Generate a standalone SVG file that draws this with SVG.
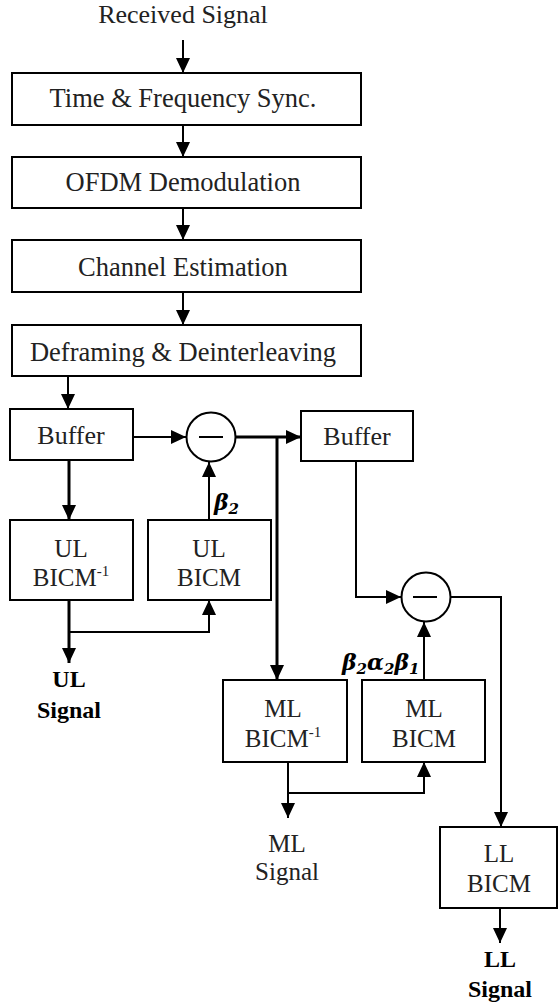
<svg xmlns="http://www.w3.org/2000/svg" width="560" height="1006" viewBox="0 0 560 1006">
<style>
.box{fill:#fff;stroke:#000;stroke-width:2}
.t{font-family:'Liberation Serif',Tinos,'Times New Roman','DejaVu Serif',serif;font-size:25px;fill:#222;text-anchor:middle}
.h{font-size:26.5px}
.b{font-family:'Liberation Serif',Tinos,'Times New Roman','DejaVu Serif',serif;font-size:24px;font-weight:bold;fill:#000;text-anchor:middle}
.g{font-family:'DejaVu Serif','Liberation Serif',serif;font-size:22px;font-weight:bold;font-style:italic;fill:#000}
.c{fill:none;stroke:#000;stroke-width:2}
.k{fill:none;stroke:#000;stroke-width:3}
</style>
<defs>
<marker id="ah" viewBox="0 0 15 14" refX="15" refY="7" markerWidth="15" markerHeight="14" markerUnits="userSpaceOnUse" orient="auto">
<path d="M0,0 L15,7 L0,14 z" fill="#000"/>
</marker>
</defs>
<g id="received"><text class="t" x="183" y="23" style="font-size:26px">Received Signal</text></g>
<g id="sync"><rect class="box" x="12" y="73" width="349" height="52"/><text class="t h" x="183" y="107">Time &amp; Frequency Sync.</text></g>
<g id="ofdm"><rect class="box" x="12" y="157" width="349" height="51"/><text class="t h" x="183" y="191">OFDM Demodulation</text></g>
<g id="chest"><rect class="box" x="12" y="240" width="349" height="52"/><text class="t h" x="183" y="276">Channel Estimation</text></g>
<g id="deframe"><rect class="box" x="12" y="325" width="349" height="51"/><text class="t h" x="183" y="361">Deframing &amp; Deinterleaving</text></g>
<g id="buffer1"><rect class="box" x="10" y="409" width="123" height="51"/><text class="t" x="71" y="444" style="font-size:26px">Buffer</text></g>
<g id="sub1"><circle cx="211" cy="437" r="24.5" fill="#fff" stroke="#000" stroke-width="2"/><line x1="199" y1="437" x2="223" y2="437" stroke="#000" stroke-width="2"/></g>
<g id="buffer2"><rect class="box" x="301" y="411" width="112" height="50"/><text class="t" x="357" y="445" style="font-size:26px">Buffer</text></g>
<g id="ulinv"><rect class="box" x="10" y="520" width="123" height="80"/><text class="t" x="71" y="557">UL</text><text class="t" x="71" y="586">BICM<tspan font-size="15" dy="-10">-1</tspan></text></g>
<g id="ulbicm"><rect class="box" x="148" y="520" width="123" height="80"/><text class="t" x="209" y="557">UL</text><text class="t" x="209" y="586">BICM</text></g>
<g id="ulsig"><text class="b" x="69" y="687">UL</text><text class="b" x="69" y="718">Signal</text></g>
<g id="sub2"><circle cx="426" cy="597" r="24.5" fill="#fff" stroke="#000" stroke-width="2"/><line x1="413" y1="597" x2="437" y2="597" stroke="#000" stroke-width="2"/></g>
<g id="mlinv"><rect class="box" x="223" y="680" width="124" height="82"/><text class="t" x="283" y="717">ML</text><text class="t" x="283" y="747">BICM<tspan font-size="15" dy="-10">-1</tspan></text></g>
<g id="mlbicm"><rect class="box" x="362" y="680" width="123" height="82"/><text class="t" x="424" y="717">ML</text><text class="t" x="424" y="747">BICM</text></g>
<g id="mlsig"><text class="t" x="287" y="852">ML</text><text class="t" x="287" y="880">Signal</text></g>
<g id="llbicm"><rect class="box" x="440" y="827" width="117" height="81"/><text class="t" x="499" y="862">LL</text><text class="t" x="499" y="892">BICM</text></g>
<g id="llsig"><text class="b" x="500" y="967">LL</text><text class="b" x="500" y="997">Signal</text></g>
<g id="labels">
<text class="g" x="214" y="510">β<tspan font-size="15" dy="4">2</tspan></text>
<text class="g" x="342" y="670">β<tspan font-size="15" dy="4">2</tspan><tspan dy="-4">α</tspan><tspan font-size="15" dy="4">2</tspan><tspan dy="-4">β</tspan><tspan font-size="15" dy="4">1</tspan></text>
</g>
<g id="connectors">
<path class="c" d="M183,40 V73" marker-end="url(#ah)"/>
<path class="c" d="M183,125 V157" marker-end="url(#ah)"/>
<path class="c" d="M183,208 V240" marker-end="url(#ah)"/>
<path class="c" d="M183,292 V325" marker-end="url(#ah)"/>
<path class="c" d="M68,376 V409" marker-end="url(#ah)"/>
<path class="c" d="M133,437 H186" marker-end="url(#ah)"/>
<path class="k" d="M236,437 H301" marker-end="url(#ah)"/>
<path class="k" d="M277,437 V680" marker-end="url(#ah)"/>
<path class="k" d="M69,460 V520" marker-end="url(#ah)"/>
<path class="c" d="M209,520 V462" marker-end="url(#ah)"/>
<path class="k" d="M69,600 V663" marker-end="url(#ah)"/>
<path class="c" d="M69,632 H209 V600" marker-end="url(#ah)"/>
<path class="c" d="M356,461 V597 H401" marker-end="url(#ah)"/>
<path class="c" d="M451,597 H501 V827" marker-end="url(#ah)"/>
<path class="c" d="M500,908 V943" marker-end="url(#ah)"/>
<path class="c" d="M288,762 V818" marker-end="url(#ah)"/>
<path class="c" d="M288,793 H424 V762" marker-end="url(#ah)"/>
<path class="c" d="M424,680 V622" marker-end="url(#ah)"/>
</g>
</svg>
